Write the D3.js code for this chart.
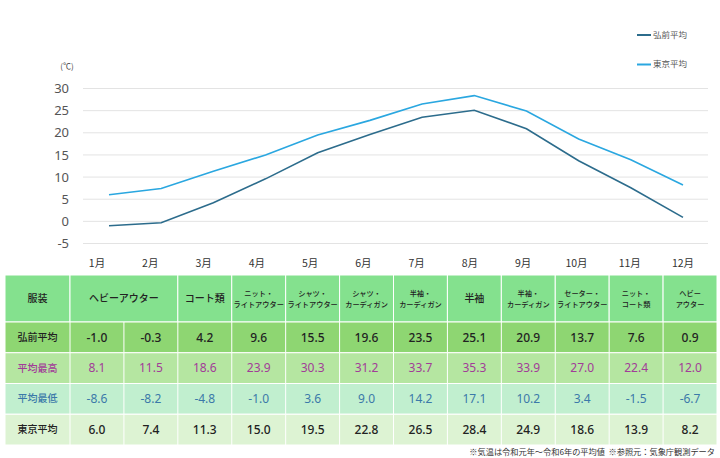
<!DOCTYPE html>
<html>
<head>
<meta charset="utf-8">
<script src="https://cdn.jsdelivr.net/npm/d3@7"></script>
<style>
  body { margin: 0; background: #fff; }
  svg { display: block; font-family: "Noto Sans CJK JP", "Noto Sans", sans-serif; }
</style>
</head>
<body>
<svg id="chart" width="720" height="458"></svg>
<script>
// data
const months = ['1月', '2月', '3月', '4月', '5月', '6月', '7月', '8月', '9月', '10月', '11月', '12月']
const hirosakiAvg = [-1.0, -0.3, 4.2, 9.6, 15.5, 19.6, 23.5, 25.1, 20.9, 13.7, 7.6, 0.9]
const tokyoAvg = [6.0, 7.4, 11.3, 15.0, 19.5, 22.8, 26.5, 28.4, 24.9, 18.6, 13.9, 8.2]
const hirosakiMax = [8.1, 11.5, 18.6, 23.9, 30.3, 31.2, 33.7, 35.3, 33.9, 27.0, 22.4, 12.0]
const hirosakiMin = [-8.6, -8.2, -4.8, -1.0, 3.6, 9.0, 14.2, 17.1, 10.2, 3.4, -1.5, -6.7]
const yTicks = [-5, 0, 5, 10, 15, 20, 25, 30]
// clothing header, span = number of months covered
const clothing = [
  {label: ['ヘビーアウター'], span: 2},
  {label: ['コート類'], span: 1},
  {label: ['ニット・', 'ライトアウター'], span: 1},
  {label: ['シャツ・', 'ライトアウター'], span: 1},
  {label: ['シャツ・', 'カーディガン'], span: 1},
  {label: ['半袖・', 'カーディガン'], span: 1},
  {label: ['半袖'], span: 1},
  {label: ['半袖・', 'カーディガン'], span: 1},
  {label: ['セーター・', 'ライトアウター'], span: 1},
  {label: ['ニット・', 'コート類'], span: 1},
  {label: ['ヘビー', 'アウター'], span: 1}
]
const seriesNames = ['弘前平均', '東京平均']
const rowNames = ['弘前平均', '平均最高', '平均最低', '東京平均']
const note = '※気温は令和元年～令和6年の平均値  ※参照元：気象庁観測データ'

const COLORS = {
  hirosaki: '#2c6c8c',
  tokyo: '#2aa7e0',
  header: '#84e18e',
  rows: ['#8ed672', '#b5e6a1', '#c1efcf', '#ddf3d3'],
  text: ['#222', '#a23c98', '#3b79a9', '#222']
}

const $svg = d3.select('#chart')

// ---- line chart ----
const xScale = d3.scalePoint().domain(months).range([109, 683])
const xLabel = d3.scalePoint().domain(months).range([97, 683])
const yScale = d3.scaleLinear().domain([-5, 30]).range([243.5, 88.5])

const $grid = $svg.append('g')
$grid.selectAll('line')
  .data(yTicks)
  .enter()
  .append('line')
    .attr('x1', 83)
    .attr('x2', 708)
    .attr('y1', d => yScale(d))
    .attr('y2', d => yScale(d))
    .attr('stroke', '#e3e3e3')
    .attr('stroke-width', 1)

$svg.append('g').selectAll('text')
  .data(yTicks)
  .enter()
  .append('text')
    .attr('x', 69)
    .attr('y', d => yScale(d))
    .attr('dy', '0.36em')
    .attr('text-anchor', 'end')
    .attr('font-family', '"Noto Sans", sans-serif')
    .attr('font-size', 13)
    .attr('fill', '#555')
    .text(d => d)

$svg.append('text')
  .attr('x', 67)
  .attr('y', 69)
  .attr('text-anchor', 'middle')
  .attr('font-size', 8)
  .attr('fill', '#444')
  .text('(℃)')

$svg.append('g').selectAll('text')
  .data(months)
  .enter()
  .append('text')
    .attr('x', d => xLabel(d))
    .attr('y', 267)
    .attr('text-anchor', 'middle')
    .attr('font-size', 10.5)
    .attr('fill', '#333')
    .text(d => d)

const line = d3.line()
  .x((d, i) => xScale(months[i]))
  .y(d => yScale(d))

const series = [
  {name: seriesNames[0], values: hirosakiAvg, color: COLORS.hirosaki},
  {name: seriesNames[1], values: tokyoAvg, color: COLORS.tokyo}
]

$svg.append('g').selectAll('path')
  .data(series)
  .enter()
  .append('path')
    .attr('d', d => line(d.values))
    .attr('fill', 'none')
    .attr('stroke', d => d.color)
    .attr('stroke-width', 1.6)

// legend
const $legend = $svg.append('g').selectAll('g')
  .data(series)
  .enter()
  .append('g')
    .attr('transform', (d, i) => `translate(637, ${35 + i * 29.5})`)
$legend.append('line')
  .attr('x1', 0).attr('x2', 14)
  .attr('stroke', d => d.color)
  .attr('stroke-width', 2)
$legend.append('text')
  .attr('x', 16)
  .attr('dy', '0.35em')
  .attr('font-size', 8.5)
  .attr('fill', '#555')
  .text(d => d.name)

// ---- table ----
const colScale = d3.scaleBand().domain(months).range([70, 717])
const rowScale = d3.scaleBand().domain(rowNames).range([322, 445])
const HEAD = {x: 5, top: 275, bottom: 322}

const $table = $svg.append('g')

// header row
$table.append('rect')
  .attr('x', HEAD.x).attr('y', HEAD.top)
  .attr('width', colScale.range()[0] - HEAD.x)
  .attr('height', HEAD.bottom - HEAD.top)
  .attr('fill', COLORS.header)
  .attr('stroke', '#fff')
$table.append('text')
  .attr('x', (HEAD.x + colScale.range()[0]) / 2)
  .attr('y', (HEAD.top + HEAD.bottom) / 2)
  .attr('dy', '0.35em')
  .attr('text-anchor', 'middle')
  .attr('font-size', 10)
  .attr('font-weight', 500)
  .attr('fill', '#222')
  .text('服装')

let start = 0
const headerCells = clothing.map(c => {
  const cell = {label: c.label, x0: colScale(months[start]), x1: colScale(months[start + c.span - 1]) + colScale.bandwidth()}
  start += c.span
  return cell
})

const $head = $table.selectAll('.head')
  .data(headerCells)
  .enter()
  .append('g')
    .attr('class', 'head')
$head.append('rect')
  .attr('x', d => d.x0)
  .attr('y', HEAD.top)
  .attr('width', d => d.x1 - d.x0)
  .attr('height', HEAD.bottom - HEAD.top)
  .attr('fill', COLORS.header)
  .attr('stroke', '#fff')
$head.each(function(d) {
  const two = d.label.length > 1
  const mid = (HEAD.top + HEAD.bottom) / 2
  d3.select(this).selectAll('text')
    .data(d.label)
    .enter()
    .append('text')
      .attr('x', (d.x0 + d.x1) / 2)
      .attr('y', (t, i) => two ? mid - 5 + i * 10.5 : mid)
      .attr('dy', '0.35em')
      .attr('text-anchor', 'middle')
      .attr('font-size', two ? 7.2 : 10)
      .attr('font-weight', 500)
      .attr('fill', '#222')
      .text(t => t)
})

// body rows
const rows = [hirosakiAvg, hirosakiMax, hirosakiMin, tokyoAvg]
const $rows = $table.selectAll('.row')
  .data(rows)
  .enter()
  .append('g')
    .attr('class', 'row')
    .attr('transform', (d, i) => `translate(0, ${rowScale(rowNames[i])})`)

$rows.append('rect')
  .attr('x', HEAD.x)
  .attr('width', colScale.range()[1] - HEAD.x)
  .attr('height', rowScale.bandwidth())
  .attr('fill', (d, i) => COLORS.rows[i])
  .attr('stroke', '#fff')

$rows.append('text')
  .attr('x', (HEAD.x + colScale.range()[0]) / 2)
  .attr('y', rowScale.bandwidth() / 2)
  .attr('dy', '0.35em')
  .attr('text-anchor', 'middle')
  .attr('font-size', 10)
  .attr('font-weight', 500)
  .attr('fill', (d, i) => COLORS.text[i])
  .text((d, i) => rowNames[i])

$rows.each(function(vals, ri) {
  const $r = d3.select(this)
  $r.selectAll('line')
    .data(months)
    .enter()
    .append('line')
      .attr('x1', m => colScale(m))
      .attr('x2', m => colScale(m))
      .attr('y1', 0)
      .attr('y2', rowScale.bandwidth())
      .attr('stroke', '#fff')
      .attr('stroke-width', 1)
  $r.selectAll('.val')
    .data(vals)
    .enter()
    .append('text')
      .attr('class', 'val')
      .attr('x', (v, i) => colScale(months[i]) + colScale.bandwidth() / 2)
      .attr('y', rowScale.bandwidth() / 2)
      .attr('dy', '0.35em')
      .attr('text-anchor', 'middle')
      .attr('font-family', '"Noto Sans", sans-serif')
      .attr('font-size', 12)
      .attr('font-weight', ri === 0 || ri === 3 ? 500 : 400)
      .attr('fill', COLORS.text[ri])
      .text(v => v.toFixed(1))
})

$svg.append('text')
  .attr('x', 715)
  .attr('y', 455)
  .attr('text-anchor', 'end')
  .attr('font-size', 8.2)
  .attr('fill', '#333')
  .attr('xml:space', 'preserve')
  .text(note)
</script>
</body>
</html>
